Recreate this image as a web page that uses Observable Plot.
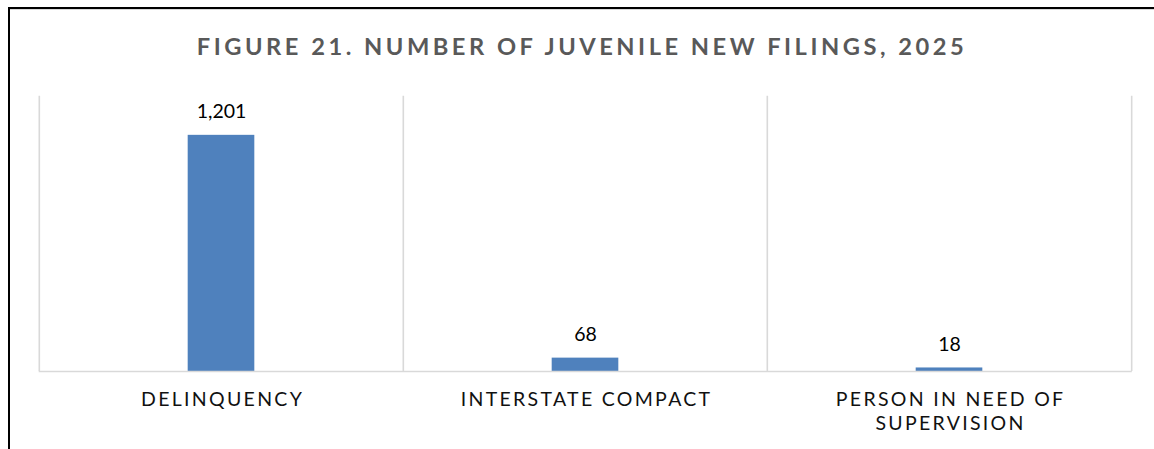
<!DOCTYPE html>
<html>
<head>
<meta charset="utf-8">
<script src="https://cdn.jsdelivr.net/npm/d3@7"></script>
<script src="https://cdn.jsdelivr.net/npm/@observablehq/plot@0.6"></script>
<style>
  html, body { margin: 0; padding: 0; background: #fff; }
  #page { position: relative; width: 1154px; height: 449px; overflow: hidden; font-family: Lato, "Noto Sans", sans-serif; }
  #frame { position: absolute; left: 8px; top: 7px; width: 1150px; height: 460px; border-top: 2px solid #000; border-left: 2px solid #000; box-sizing: border-box; }
  #frame::after { content: ""; position: absolute; left: 0; right: 0; top: 0; height: 1px; background: #d9d9d9; }
  #title { position: absolute; left: 0; width: 1164px; top: 33.5px; text-align: center; font-family: Lato, sans-serif; font-weight: bold; font-size: 23.7px; line-height: 24px; letter-spacing: 3.5px; color: #595959; white-space: nowrap; }
  #chart { position: absolute; left: 0; top: 80px; }
  .cat text { letter-spacing: 2.3px; }
</style>
</head>
<body>
<div id="page">
  <div id="frame"></div>
  <div id="title">FIGURE 21. NUMBER OF JUVENILE NEW FILINGS, 2025</div>
  <div id="chart"></div>
</div>
<script>
const categories = ["DELINQUENCY", "INTERSTATE COMPACT", "PERSON IN NEED OF SUPERVISION"];
const tickLabels = ["DELINQUENCY", "INTERSTATE COMPACT", "PERSON IN NEED OF\nSUPERVISION"];
const values = [1201, 68, 18];
const valueLabels = ["1,201", "68", "18"];
const yMax = 1400;

const data = categories.map((c, i) => ({category: c, value: values[i], label: valueLabels[i], tick: tickLabels[i]}));

const W = 1154, H = 369, mL = 38.7, mR = 22.2;
const half = (W - mL - mR) / categories.length / 2;
const grid = "#d9d9d9";

const chart = Plot.plot({
  width: W,
  height: H,
  marginLeft: mL,
  marginRight: mR,
  marginTop: 15.7,
  marginBottom: 78,
  style: {fontFamily: "Lato, 'Noto Sans', sans-serif", background: "transparent"},
  x: {type: "band", domain: categories, padding: 0, axis: null},
  y: {domain: [0, yMax], axis: null},
  marks: [
    Plot.ruleX(categories, {x: d => d, dx: -half, stroke: grid, strokeWidth: 1.6}),
    Plot.ruleX(categories.slice(-1), {x: d => d, dx: half, stroke: grid, strokeWidth: 1.6}),
    Plot.barY(data, {x: "category", y: "value", fill: "#4f81bd", insetLeft: half - 33.5, insetRight: half - 33.5}),
    Plot.ruleY([0], {stroke: grid, strokeWidth: 1.6}),
    Plot.text(data, {x: "category", y: "value", text: "label", lineAnchor: "bottom", dy: -17.3, fontSize: 19.5, fill: "#000"}),
    Plot.text(data, {x: "category", text: "tick", frameAnchor: "bottom", lineAnchor: "top", dy: 17.2, dx: 1.1, fontSize: 19.5, lineHeight: 1.25, fill: "#111", className: "cat"})
  ]
});
document.getElementById("chart").appendChild(chart);
</script>
</body>
</html>
